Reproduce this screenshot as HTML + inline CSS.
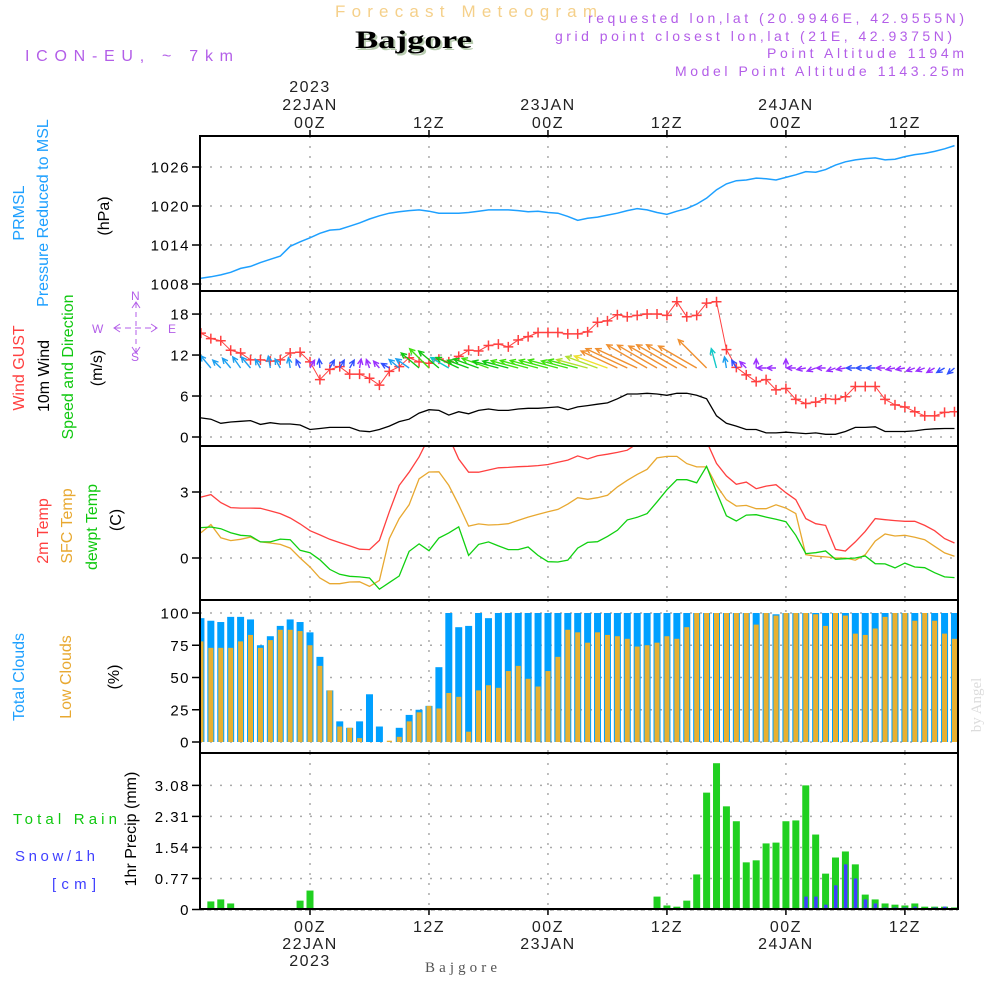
<!DOCTYPE html>
<html><head><meta charset="utf-8">
<style>
html,body{margin:0;padding:0;background:#fff;}
svg{display:block;font-family:"Liberation Sans",sans-serif;}
</style></head>
<body>
<svg id="chart" width="1000" height="1000" viewBox="0 0 1000 1000" xmlns="http://www.w3.org/2000/svg">
  <rect x="0" y="0" width="1000" height="1000" fill="#fff"/>
  <text x="335" y="17" font-size="17" fill="#f5d08a" textLength="262" lengthAdjust="spacing">Forecast Meteogram</text>
  <text x="357" y="50" font-size="25" font-weight="bold" font-family="Liberation Serif,serif" fill="#b8ccb0" textLength="117" lengthAdjust="spacingAndGlyphs">Bajgore</text>
  <text x="355" y="48" font-size="25" font-weight="bold" font-family="Liberation Serif,serif" fill="#000" textLength="117" lengthAdjust="spacingAndGlyphs">Bajgore</text>
  <text x="25" y="61" font-size="16" fill="#b35ee8" textLength="208" lengthAdjust="spacing">ICON-EU, ~ 7km</text>
  <text x="588" y="23" font-size="14" fill="#b35ee8" textLength="376" lengthAdjust="spacing">requested lon,lat (20.9946E, 42.9555N)</text>
  <text x="555" y="41" font-size="14" fill="#b35ee8" textLength="397" lengthAdjust="spacing">grid point closest lon,lat (21E, 42.9375N)</text>
  <text x="767" y="58" font-size="14" fill="#b35ee8" textLength="197" lengthAdjust="spacing">Point Altitude 1194m</text>
  <text x="675" y="76" font-size="14" fill="#b35ee8" textLength="289" lengthAdjust="spacing">Model Point Altitude 1143.25m</text>

  <!-- left labels -->
  <text transform="translate(24,213) rotate(-90)" text-anchor="middle" font-size="16" fill="#1ea0ff">PRMSL</text>
  <text transform="translate(48,213) rotate(-90)" text-anchor="middle" font-size="16" fill="#1ea0ff">Pressure Reduced to MSL</text>
  <text transform="translate(109,216) rotate(-90)" text-anchor="middle" font-size="16" fill="#000">(hPa)</text>
  <text transform="translate(24,368) rotate(-90)" text-anchor="middle" font-size="16" fill="#ff4040">Wind GUST</text>
  <text transform="translate(49,376) rotate(-90)" text-anchor="middle" font-size="16" fill="#000">10m Wind</text>
  <text transform="translate(73,367) rotate(-90)" text-anchor="middle" font-size="16" fill="#10c810">Speed and Direction</text>
  <text transform="translate(102,368) rotate(-90)" text-anchor="middle" font-size="16" fill="#000">(m/s)</text>
  <g fill="#b35ee8" stroke="#b35ee8" font-size="12">
    <text x="131" y="300" stroke="none">N</text>
    <text x="131" y="361" stroke="none">S</text>
    <text x="92" y="333" stroke="none">W</text>
    <text x="168" y="333" stroke="none">E</text>
    <line x1="115" y1="328" x2="156" y2="328" stroke-dasharray="6,4"/>
    <line x1="136" y1="303" x2="136" y2="352" stroke-dasharray="5,4"/>
    <polyline points="120,324 114,328 120,332" fill="none"/>
    <polyline points="151,324 157,328 151,332" fill="none"/>
    <polyline points="132,308 136,302 140,308" fill="none"/>
    <polyline points="132,347 136,353 140,347" fill="none"/>
  </g>
  <text transform="translate(48,531) rotate(-90)" text-anchor="middle" font-size="16" fill="#ff4040">2m Temp</text>
  <text transform="translate(72,526) rotate(-90)" text-anchor="middle" font-size="16" fill="#e8a830">SFC Temp</text>
  <text transform="translate(97,527) rotate(-90)" text-anchor="middle" font-size="16" fill="#10c810">dewpt Temp</text>
  <text transform="translate(121,520) rotate(-90)" text-anchor="middle" font-size="16" fill="#000">(C)</text>
  <text transform="translate(24,677) rotate(-90)" text-anchor="middle" font-size="16" fill="#1ea0ff">Total Clouds</text>
  <text transform="translate(71,677) rotate(-90)" text-anchor="middle" font-size="16" fill="#e8a830">Low Clouds</text>
  <text transform="translate(119,677) rotate(-90)" text-anchor="middle" font-size="16" fill="#000">(%)</text>
  <text x="13" y="824" font-size="15" fill="#10c810" textLength="104" lengthAdjust="spacing">Total  Rain</text>
  <text x="15" y="861" font-size="15" fill="#4040ff" textLength="80" lengthAdjust="spacing">Snow/1h</text>
  <text x="52" y="889" font-size="15" fill="#4040ff" textLength="44" lengthAdjust="spacing">[cm]</text>
  <text transform="translate(136,829) rotate(-90)" text-anchor="middle" font-size="16" fill="#000">1hr Precip (mm)</text>
  <text transform="translate(981,705) rotate(-90)" text-anchor="middle" font-size="15" font-family="Liberation Serif,serif" fill="#dcdcdc">by Angel</text>
  <text x="425" y="972" font-size="15" font-family="Liberation Serif,serif" fill="#555" textLength="72" lengthAdjust="spacing">Bajgore</text>
  <g id="plots"></g>
</svg>
<script>
// ---- data (hourly, starting 21JAN 13Z; index 11 = 22JAN 00Z) ----
const timeLabelsTop = ["00Z","12Z","00Z","12Z","00Z","12Z"];
const timeHours = [0,12,24,36,48,60];
const dateLabels = ["22JAN","","23JAN","","24JAN",""];
const pressure = [1008.9,1009.1,1009.4,1009.8,1010.4,1010.7,1011.3,1011.8,1012.3,1013.8,1014.5,1015.1,1015.8,1016.3,1016.4,1016.9,1017.4,1018.0,1018.5,1018.9,1019.1,1019.3,1019.4,1019.2,1018.9,1018.9,1018.9,1019.0,1019.2,1019.4,1019.4,1019.4,1019.3,1019.1,1019.2,1019.0,1018.9,1018.4,1017.8,1018.1,1018.3,1018.6,1018.9,1019.3,1019.6,1019.4,1019.0,1018.7,1019.2,1019.6,1020.3,1021.2,1022.5,1023.4,1023.9,1024.0,1024.3,1024.2,1024.0,1024.4,1024.8,1025.3,1025.2,1025.6,1026.3,1026.8,1027.1,1027.3,1027.4,1027.1,1027.2,1027.6,1027.9,1028.1,1028.4,1028.8,1029.3];
const pressureTicks = [1008,1014,1020,1026];
const windGust = [15.2,14.4,14.1,12.7,12.3,11.3,11.3,11.1,11.3,12.3,12.4,11.0,8.4,9.9,10.3,9.2,9.2,8.6,7.6,9.6,10.3,11.6,11.0,10.8,11.4,11.0,11.8,12.7,12.6,13.4,13.6,13.2,14.2,14.7,15.3,15.3,15.3,15.1,15.1,15.4,16.8,17.0,17.9,17.6,17.8,18.0,18.0,17.8,19.8,17.6,17.8,19.6,19.8,12.8,10.2,9.1,8.1,8.4,6.9,7.1,5.5,4.9,5.1,5.6,5.5,5.9,7.4,7.4,7.4,5.5,4.7,4.4,3.7,3.1,3.1,3.6,3.7];
const wind10m = [2.8,2.6,2.0,2.2,2.3,2.4,1.85,2.1,1.9,1.9,1.75,1.1,1.25,1.4,1.4,1.4,0.9,0.78,1.1,1.6,2.25,2.6,3.5,4.0,3.9,3.2,3.7,3.4,3.9,4.1,3.9,3.9,4.1,4.2,4.2,4.3,4.4,4.0,4.4,4.6,4.8,5.0,5.6,6.3,6.3,6.4,6.3,6.1,6.4,6.4,6.1,5.6,3.1,2.0,1.6,1.1,1.1,0.6,0.6,0.7,0.6,0.5,0.6,0.4,0.4,0.8,1.4,1.4,1.5,0.8,0.8,0.8,0.9,1.1,1.2,1.25,1.25];
const windDir = [125,130,135,130,125,130,120,100,120,100,115,60,95,60,60,60,80,110,130,150,140,145,140,135,140,150,155,160,160,160,165,165,165,165,165,165,165,165,165,165,160,160,155,155,155,150,150,150,150,150,150,135,105,100,120,135,90,180,180,90,180,190,200,180,200,190,180,180,180,180,190,190,200,200,210,210,220];
const windTicks = [0,6,12,18];
const temp2m = [2.77,2.88,2.52,2.29,2.27,2.27,2.26,2.14,2.02,1.82,1.55,1.24,1.05,0.85,0.7,0.55,0.4,0.38,0.8,2.1,3.3,3.9,4.6,5.5,6.0,5.5,4.5,3.9,3.9,4.0,4.1,4.12,4.15,4.17,4.2,4.25,4.35,4.45,4.64,4.5,4.65,4.72,4.8,4.9,5.2,5.5,5.6,5.7,5.8,5.8,5.6,5.3,4.3,3.73,3.35,3.45,3.15,3.27,3.33,2.97,2.65,1.79,1.56,1.48,0.39,0.32,0.73,1.21,1.79,1.74,1.7,1.67,1.67,1.48,1.24,0.88,0.68];
const tempSfc = [1.15,1.52,0.92,0.79,0.85,0.95,0.73,0.68,0.62,0.45,0,-0.41,-0.91,-1.17,-1.17,-1.09,-1.08,-1.29,-1.02,0.88,1.79,2.42,3.6,3.91,3.92,3.3,2.42,1.45,1.55,1.5,1.52,1.56,1.71,1.86,1.98,2.1,2.21,2.45,2.74,2.67,2.74,2.85,3.23,3.53,3.8,4.03,4.55,4.62,4.62,4.29,4.14,4.14,3.3,2.65,2.36,2.39,2.24,2.24,2.42,2.27,2.02,0.15,0.08,0.05,0,0,-0.1,0.15,0.77,1.09,1.0,1.03,0.94,0.83,0.53,0.23,0.08];
const tempDew = [1.38,1.41,1.33,1.15,1.03,1.0,0.73,0.73,0.86,0.83,0.35,0.24,-0.08,-0.52,-0.74,-0.83,-0.86,-0.91,-1.42,-1.12,-0.82,0.3,0.64,0.33,0.91,1.14,1.42,0.12,0.62,0.73,0.55,0.38,0.38,0.5,0.12,-0.17,-0.18,-0.1,0.45,0.71,0.74,0.98,1.26,1.73,1.85,2.02,2.55,3.1,3.56,3.56,3.42,4.17,3.0,1.92,1.68,1.95,1.97,1.86,1.76,1.65,1.03,0.2,0.24,0.32,-0.06,-0.03,0,0.09,-0.26,-0.27,-0.45,-0.23,-0.41,-0.44,-0.67,-0.86,-0.89];
const tempTicks = [0,3];
const totalClouds = [96,94,93,97,97,95,75,82,90,95,93,85,66,40,16,11,16,37,12,0,11,21,25,28,58,100,89,90,100,96,100,100,100,100,100,100,100,100,100,100,100,100,100,100,100,100,100,100,100,100,100,100,100,100,100,100,100,100,99,100,100,100,100,100,100,100,100,100,100,100,100,100,100,100,100,100,100];
const lowClouds = [78,73,73,73,78,83,73,79,87,87,86,75,59,40,12,11,3,0,0,1,4,16,23,28,26,38,35,8,40,44,42,55,59,49,43,55,66,87,85,77,85,83,82,80,74,75,77,82,80,89,100,100,100,100,100,100,91,100,98,100,100,100,99,90,100,98,84,83,88,97,100,100,94,100,94,84,80];
const cloudTicks = [0,25,50,75,100];
const precipTotal = [0,0.2,0.25,0.15,0,0,0,0,0,0,0.22,0.47,0,0,0,0,0,0,0,0,0,0,0,0,0,0,0,0,0,0,0,0,0,0,0,0,0,0,0.03,0,0,0,0,0,0.02,0,0.32,0.1,0.07,0.22,0.87,2.9,3.63,2.56,2.19,1.17,1.22,1.64,1.66,2.19,2.21,3.08,1.86,0.89,1.29,1.44,1.12,0.37,0.25,0.15,0.12,0.1,0.15,0.07,0.07,0.07,0.05];
const snow1h = [0,0,0,0,0,0,0,0,0,0,0,0,0,0,0,0,0,0,0,0,0,0,0,0,0,0,0,0,0,0,0,0,0,0,0,0,0,0,0,0,0,0,0,0,0,0,0,0,0,0,0,0,0,0,0,0,0,0,0,0,0,0.32,0.32,0.12,0.6,1.12,0.77,0.25,0.15,0.05,0.05,0.05,0.07,0.03,0.05,0.07,0.03];
const precipTicks = [0,0.77,1.54,2.31,3.08];

// ---- scales ----
const NS="http://www.w3.org/2000/svg";
const PX0=200, PX1=958, HOUR0=-11;
function xH(h){return 310+9.915*h;}
function xI(i){return xH(i+HOUR0);}
const panels = {
  p1:{top:136,bot:291}, p2:{top:291,bot:446}, p3:{top:446,bot:600}, p4:{top:600,bot:753}, p5:{top:753,bot:909}
};
function yP(v){return 284-6.5*(v-1008);}
function yW(v){return 437-6.83*v;}
function yT(v){return 558-22*v;}
function yC(v){return 742-1.29*v;}
function yR(v){return 909.5-40.3*v;}

const root=document.getElementById('plots');
function el(tag,attrs,parent){const e=document.createElementNS(NS,tag);for(const k in attrs)e.setAttribute(k,attrs[k]);(parent||root).appendChild(e);return e;}

const defs=el('defs',{});
for(const k in panels){
  const cp=el('clipPath',{id:'clip-'+k},defs);
  el('rect',{x:PX0,y:panels[k].top,width:PX1-PX0,height:panels[k].bot-panels[k].top},cp);
}

function grid(pk,ticks,yf,fmt,name){
  const p=panels[pk];
  const g=el('g',{});
  
  
  ticks.forEach(t=>{
    const y=yf(t);
    const ln=el('line',{x1:PX0,x2:PX1,y1:y,y2:y,stroke:'#aaa','stroke-width':1.5,'stroke-dasharray':'2,8'},g);
    
    
    const tk=el('line',{x1:PX0-8,x2:PX0,y1:y,y2:y,stroke:'#000','stroke-width':1.5},g);
    
    
    const tx=el('text',{x:PX0-10,y:y+5.5,'text-anchor':'end','font-size':15,fill:'#000','letter-spacing':1.5},g);
    tx.textContent=fmt(t);
    
    
  });
  timeHours.forEach(h=>{
    const x=xH(h);
    const vl=el('line',{x1:x,x2:x,y1:p.top,y2:p.bot,stroke:'#aaa','stroke-width':1.5,'stroke-dasharray':'2,8'},g);
    
    
  });
}
grid('p1',pressureTicks,yP,t=>String(t),'pressure');
grid('p2',windTicks,yW,t=>String(t),'wind');
grid('p3',tempTicks,yT,t=>String(t),'temp');
grid('p4',cloudTicks,yC,t=>String(t),'clouds');
grid('p5',precipTicks,yR,t=>t===0?'0':t.toFixed(2),'precip');

function line(arr,xf,yf,color,pk,name,w){
  const d=arr.map((v,i)=>(i?'L':'M')+xf(i).toFixed(1)+','+yf(v).toFixed(1)).join('');
  const p=el('path',{d:d,fill:'none',stroke:color,'stroke-width':w||1.4,'clip-path':'url(#clip-'+pk+')'});
  
  
  return p;
}
line(pressure,xI,yP,'#1ea0ff','p1','pressure-line',1.5);
line(wind10m,xI,yW,'#000','p2','wind-10m-line',1.3);
line(windGust,xI,yW,'#ff4040','p2','wind-gust-line',1);
windGust.forEach((v,i)=>{
  const x=xI(i),y=yW(v);
  const m=el('path',{d:`M${x-5},${y}H${x+5}M${x},${y-5}V${y+5}`,stroke:'#ff4040','stroke-width':1.5,'clip-path':'url(#clip-p2)'});
  
  
});
function windColor(s){
  if(s<=1.2) return '#9b30ff';
  if(s<=1.8) return '#3050ff';
  if(s<=2.6) return '#1ea0f0';
  if(s<=3.2) return '#10c8c8';
  if(s<=3.9) return '#10c810';
  if(s<=4.4) return '#40e010';
  if(s<=4.8) return '#b0e030';
  if(s<=5.3) return '#f0e030';
  return '#f09030';
}
windDir.forEach((d,i)=>{
  const s=wind10m[i];
  const L=Math.max(9,8*(s-0.6));
  const a=d*Math.PI/180;
  const x0=xI(i),y0=368;
  const x1=x0+L*Math.cos(a),y1=y0-L*Math.sin(a);
  const c=windColor(s);
  const hl=6,ha=0.45;
  const hx1=x1-hl*Math.cos(a-ha),hy1=y1+hl*Math.sin(a-ha);
  const hx2=x1-hl*Math.cos(a+ha),hy2=y1+hl*Math.sin(a+ha);
  const ar=el('path',{d:`M${x0.toFixed(1)},${y0}L${x1.toFixed(1)},${y1.toFixed(1)}M${hx1.toFixed(1)},${hy1.toFixed(1)}L${x1.toFixed(1)},${y1.toFixed(1)}L${hx2.toFixed(1)},${hy2.toFixed(1)}`,stroke:c,'stroke-width':1.4,fill:'none','clip-path':'url(#clip-p2)'});
  
  
});
line(temp2m,xI,yT,'#ff4040','p3','temp-2m-line',1.3);
line(tempSfc,xI,yT,'#e8a830','p3','temp-sfc-line',1.3);
line(tempDew,xI,yT,'#10d010','p3','temp-dewpt-line',1.3);
totalClouds.forEach((v,i)=>{
  const x=xI(i);
  const r=el('rect',{x:x-3.5,y:yC(v),width:7,height:yC(0)-yC(v),fill:'#00a0ff','clip-path':'url(#clip-p4)'});
  
  
});
lowClouds.forEach((v,i)=>{
  const x=xI(i);
  const r=el('rect',{x:x-2.5,y:yC(v),width:5,height:yC(0)-yC(v),fill:'#e8b030','clip-path':'url(#clip-p4)'});
  
  
});
precipTotal.forEach((v,i)=>{
  if(v<=0) return;
  const x=xI(i);
  const r=el('rect',{x:x-3.5,y:yR(v),width:7,height:yR(0)-yR(v),fill:'#20d020','clip-path':'url(#clip-p5)'});
  
  
});
snow1h.forEach((v,i)=>{
  if(v<=0) return;
  const x=xI(i);
  const r=el('rect',{x:x-1.5,y:yR(v),width:3.5,height:yR(0)-yR(v),fill:'#4040ff','clip-path':'url(#clip-p5)'});
  
  
});
const zl=el('line',{x1:PX0,x2:PX1,y1:yR(0),y2:yR(0),stroke:'#000','stroke-width':1.5,'stroke-dasharray':'4,3'});



for(const k in panels){
  const p=panels[k];
  const f=el('rect',{x:PX0,y:p.top,width:PX1-PX0,height:p.bot-p.top,fill:'none',stroke:'#000','stroke-width':2});
  
  
}
timeHours.forEach((h,j)=>{
  const x=xH(h);
  const t1=el('line',{x1:x,x2:x,y1:panels.p1.top-6,y2:panels.p1.top,stroke:'#000','stroke-width':1.5});
  
  
  const t2=el('line',{x1:x,x2:x,y1:panels.p5.bot,y2:panels.p5.bot+6,stroke:'#000','stroke-width':1.5});
  
  
  const a=el('text',{x:x,y:128,'text-anchor':'middle','font-size':16,fill:'#222','letter-spacing':1.5});
  a.textContent=timeLabelsTop[j];
  
  
  const b=el('text',{x:x,y:932,'text-anchor':'middle','font-size':16,fill:'#222','letter-spacing':1.5});
  b.textContent=timeLabelsTop[j];
  
  
  if(dateLabels[j]){
    const c=el('text',{x:x,y:110,'text-anchor':'middle','font-size':16,fill:'#222','letter-spacing':1.5});
    c.textContent=dateLabels[j];
    
    
    const d=el('text',{x:x,y:949,'text-anchor':'middle','font-size':16,fill:'#222','letter-spacing':1.5});
    d.textContent=dateLabels[j];
    
    
  }
});
const y1=el('text',{x:xH(0),y:92,'text-anchor':'middle','font-size':16,fill:'#222','letter-spacing':1.5});
y1.textContent='2023';


const y2=el('text',{x:xH(0),y:966,'text-anchor':'middle','font-size':16,fill:'#222','letter-spacing':1.5});
y2.textContent='2023';


</script>
</body></html>
